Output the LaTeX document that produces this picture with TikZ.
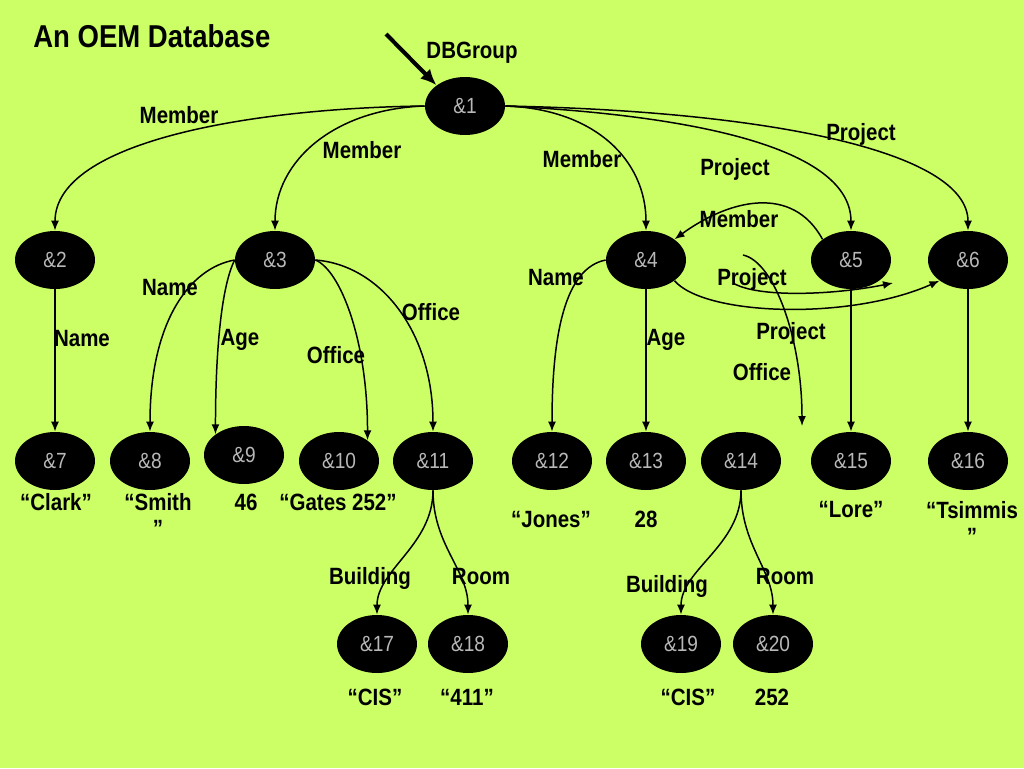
\documentclass[tikz,border=0pt]{standalone}
\usepackage{fontspec}
\setmainfont[FakeStretch=0.87]{Liberation Sans}
\usepackage{tikz}
\usetikzlibrary{arrows.meta, shapes.geometric}
\definecolor{slide}{RGB}{204,255,102}
\colorlet{oidtext}{white!72!black}

\begin{document}
\begin{tikzpicture}[x=0.02cm, y=0.02cm, >={Latex[length=2mm, width=1.6mm]},
  obj/.style={ellipse, fill=black, minimum width=1.6cm, minimum height=1.16cm,
    inner sep=0pt, text=oidtext, font=\fontsize{12.5}{13}\selectfont},
  lbl/.style={anchor=base, inner sep=0pt, font=\fontsize{13.4}{14.5}\selectfont\bfseries},
  link/.style={->, line width=0.85pt}]

  % --- slide background -----------------------------------------------------
  \fill[slide] (0,0) rectangle (1024,-768);
  \useasboundingbox (0,0) rectangle (1024,-768);

  \node[anchor=base west, inner sep=0pt, font=\fontsize{18}{20}\selectfont\bfseries]
    (title) at (33,-47) {An OEM Database};

  % --- objects ----------------------------------------------------------------
  \node[obj] (n1) at (465,-106) {\&1};

  \node[obj] (n2) at (55,-260)  {\&2};
  \node[obj] (n3) at (275,-260) {\&3};
  \node[obj] (n4) at (646,-260) {\&4};
  \node[obj] (n5) at (851,-260) {\&5};
  \node[obj] (n6) at (968,-260) {\&6};

  \node[obj] (n7)  at (55,-461)  {\&7};
  \node[obj] (n8)  at (150,-461) {\&8};
  \node[obj] (n9)  at (244,-455) {\&9};
  \node[obj] (n10) at (339,-461) {\&10};
  \node[obj] (n11) at (433,-461) {\&11};
  \node[obj] (n12) at (552,-461) {\&12};
  \node[obj] (n13) at (646,-461) {\&13};
  \node[obj] (n14) at (741,-461) {\&14};
  \node[obj] (n15) at (851,-461) {\&15};
  \node[obj] (n16) at (968,-461) {\&16};

  \node[obj] (n17) at (377,-644) {\&17};
  \node[obj] (n18) at (468,-644) {\&18};
  \node[obj] (n19) at (681,-644) {\&19};
  \node[obj] (n20) at (773,-644) {\&20};

  % --- entry point -------------------------------------------------------------
  \coordinate (dbin) at (386,-34);
  \draw[line width=2.3pt, -{Latex[length=3.2mm, width=2.8mm]}] (dbin) -- (n1.north west);
  \node[lbl] (tdb) at (472,-58) {DBGroup};

  % --- edges out of the root ---------------------------------------------------
  \draw[link] (n1.west) .. controls +(-170,-2) and +(0,90) .. (n2.north);
  \draw[link] (n1.west) .. controls +(-90,-3) and +(0,70) .. (n3.north);
  \draw[link] (n1.east) .. controls +(90,-3) and +(0,70) .. (n4.north);
  \draw[link] (n1.east) .. controls +(200,-10) and +(0,80) .. (n5.north);
  \draw[link] (n1.east) .. controls +(260,-5) and +(0,80) .. (n6.north);
  \node[lbl] (tm2) at (179,-123) {Member};
  \node[lbl] (tm3) at (362,-158) {Member};
  \node[lbl] (tm4) at (582,-167) {Member};
  \node[lbl] (tp5) at (735,-175) {Project};
  \node[lbl] (tp6) at (861,-140) {Project};

  % --- cross links between &4, &5, &6 ----------------------------------------
  \draw[link] (n5.north west) .. controls +(-30,55) and +(55,40) .. (n4.north east);
  \node[lbl] (tm54) at (739,-227) {Member};

  \coordinate (p45a) at (733,-283);
  \coordinate (p45b) at (893,-283);
  \draw[link] (p45a) .. controls +(25,-15) and +(-60,-12) .. (p45b);
  \node[lbl] (tp45) at (752,-285) {Project};

  \draw[link] (n4.south east) .. controls +(30,-35) and +(-90,-40) .. (n6.south west);
  \node[lbl] (tp46) at (791,-339) {Project};

  \coordinate (off1) at (743,-255);
  \coordinate (off2) at (802,-426);
  \draw[link] (off1) .. controls +(32,-7) and +(0,85) .. (off2);
  \node[lbl] (toff4) at (762,-380) {Office};

  % --- attributes ------------------------------------------------------------
  \draw[link] (n2.south) -- (n7.north);
  \node[lbl] (tn7) at (82,-346) {Name};

  \draw[link] (n3.west) .. controls +(-45,-8) and +(0,110) .. (n8.north);
  \draw[link] (n3.west) .. controls +(-15,-30) and +(0,70) .. (n9.north west);
  \draw[link] (n3.east) .. controls +(25,-10) and +(0,100) .. (n10.north east);
  \draw[link] (n3.east) .. controls +(65,-5) and +(0,100) .. (n11.north);
  \node[lbl] (tn8)  at (170,-295) {Name};
  \node[lbl] (ta9)  at (240,-345) {Age};
  \node[lbl] (to10) at (336,-363) {Office};
  \node[lbl] (to11) at (431,-320) {Office};

  \draw[link] (n4.west) .. controls +(-40,-8) and +(0,100) .. (n12.north);
  \draw[link] (n4.south) -- (n13.north);
  \node[lbl] (tn12) at (556,-285) {Name};
  \node[lbl] (ta13) at (666,-345) {Age};

  \draw[link] (n5.south) -- (n15.north);
  \draw[link] (n6.south) -- (n16.north);

  \draw[link] (n11.south) .. controls +(0,-55) and +(0,45) .. (n17.north);
  \draw[link] (n11.south) .. controls +(0,-55) and +(0,45) .. (n18.north);
  \draw[link] (n14.south) .. controls +(0,-55) and +(0,45) .. (n19.north);
  \draw[link] (n14.south) .. controls +(0,-55) and +(0,45) .. (n20.north);
  \node[lbl] (tb17) at (370,-584) {Building};
  \node[lbl] (tr18) at (481,-584) {Room};
  \node[lbl] (tb19) at (667,-592) {Building};
  \node[lbl] (tr20) at (785,-584) {Room};

  % --- atomic values -----------------------------------------------------------
  \node[lbl] (v7)  at (56,-510)  {“Clark”};
  \node[lbl, align=center] (v8) at (158,-536) {“Smith\\”};
  \node[lbl] (v9)  at (246,-510) {46};
  \node[lbl] (v10) at (338,-510) {“Gates 252”};
  \node[lbl] (v12) at (551,-527) {“Jones”};
  \node[lbl] (v13) at (646,-527) {28};
  \node[lbl] (v15) at (851,-517) {“Lore”};
  \node[lbl, align=center] (v16) at (972,-544) {“Tsimmis\\”};
  \node[lbl] (v17) at (375,-705) {“CIS”};
  \node[lbl] (v18) at (467,-705) {“411”};
  \node[lbl] (v19) at (688,-705) {“CIS”};
  \node[lbl] (v20) at (772,-705) {252};

\end{tikzpicture}
\end{document}
